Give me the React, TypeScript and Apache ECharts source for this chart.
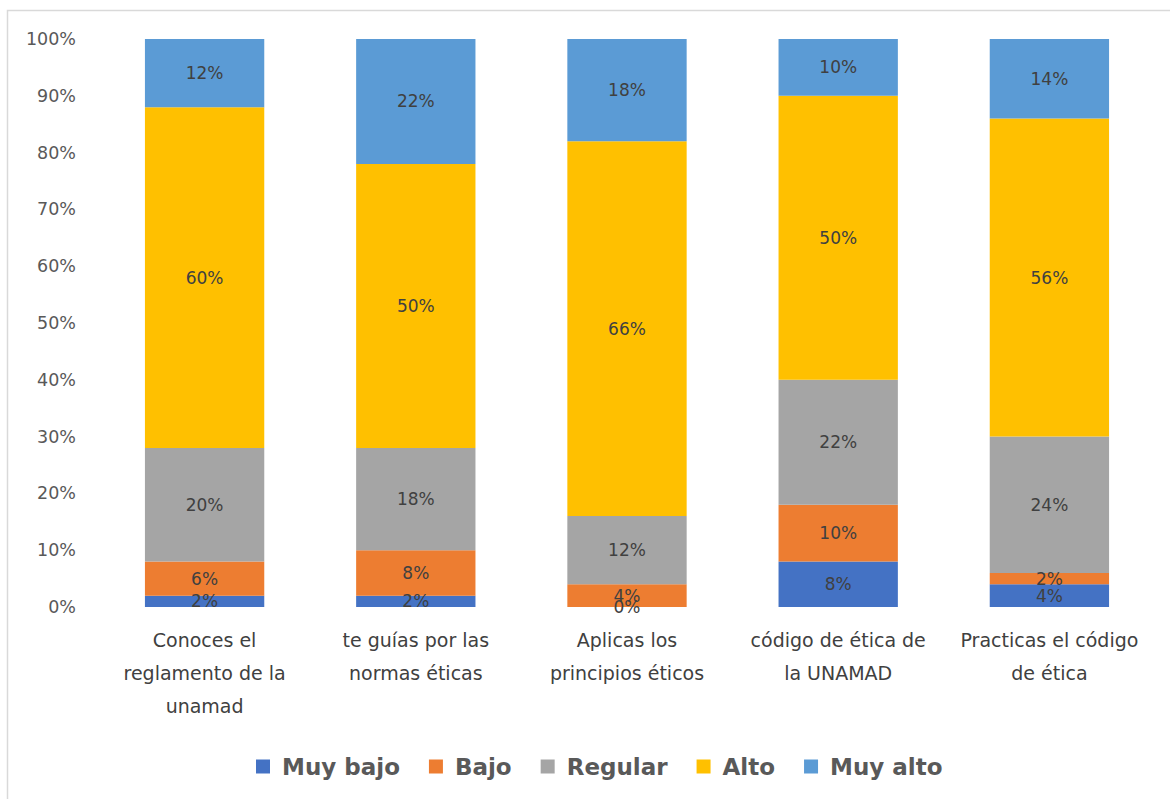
import React, { useEffect, useRef } from "react";
import * as echarts from "echarts";

const categories = [
  "Conoces el\nreglamento de la\nunamad",
  "te guías por las\nnormas éticas",
  "Aplicas los\nprincipios éticos",
  "código de ética de\nla UNAMAD",
  "Practicas el código\nde ética",
];
const muyBajo = [2, 2, 0, 8, 4];
const bajo = [6, 8, 4, 10, 2];
const regular = [20, 18, 12, 22, 24];
const alto = [60, 50, 66, 50, 56];
const muyAlto = [12, 22, 18, 10, 14];

const seriesDefs = [
  { name: "Muy bajo", data: muyBajo, color: "#4472C4" },
  { name: "Bajo", data: bajo, color: "#ED7D31" },
  { name: "Regular", data: regular, color: "#A5A5A5" },
  { name: "Alto", data: alto, color: "#FFC000" },
  { name: "Muy alto", data: muyAlto, color: "#5B9BD5" },
];

const FONT = "'DejaVu Sans', sans-serif";

export default function App() {
  const ref = useRef<HTMLDivElement>(null);
  useEffect(() => {
    if (!ref.current) return;
    const chart = echarts.init(ref.current, null, { renderer: "svg" });
    chart.setOption({
      animation: false,
      backgroundColor: "#ffffff",
      graphic: [
        {
          type: "rect",
          shape: { x: 7.5, y: 10.5, width: 1300, height: 900 },
          style: { fill: "none", stroke: "#d9d9d9", lineWidth: 1.5 },
          silent: true,
        },
      ],
      grid: { left: 99, right: 15, top: 39, bottom: 192, containLabel: false },
      legend: {
        top: 750,
        left: 251,
        itemWidth: 14,
        itemHeight: 14,
        itemGap: 29,
        icon: "rect",
        textStyle: {
          fontFamily: FONT,
          fontSize: 23,
          fontWeight: "bold",
          color: "#595959",
          padding: [0, 0, 0, 7],
        },
        data: seriesDefs.map((s) => s.name),
      },
      xAxis: {
        type: "category",
        data: categories,
        axisLine: { show: false },
        axisTick: { show: false },
        axisLabel: {
          interval: 0,
          margin: 16,
          fontFamily: FONT,
          fontSize: 19,
          color: "#404040",
          lineHeight: 33,
        },
      },
      yAxis: {
        type: "value",
        min: 0,
        max: 100,
        interval: 10,
        splitLine: { show: false },
        axisLine: { show: false },
        axisTick: { show: false },
        axisLabel: {
          formatter: "{value}%",
          fontFamily: FONT,
          fontSize: 17.5,
          color: "#595959",
          margin: 23,
        },
      },
      series: seriesDefs.map((s) => ({
        name: s.name,
        type: "bar",
        stack: "total",
        barWidth: "56.5%",
        data: s.data,
        itemStyle: { color: s.color },
        label: {
          show: true,
          position: "inside",
          formatter: "{c}%",
          fontFamily: FONT,
          fontSize: 17,
          color: "#404040",
        },
      })),
    });
    return () => chart.dispose();
  }, []);
  return (
    <div
      ref={ref}
      style={{ position: "absolute", left: 0, top: 0, width: 1170, height: 799 }}
    />
  );
}
